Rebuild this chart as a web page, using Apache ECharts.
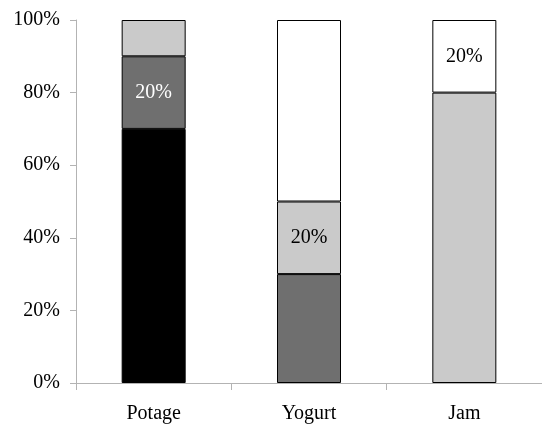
<!DOCTYPE html>
<html><head><meta charset="utf-8">
<script src="https://cdn.jsdelivr.net/npm/echarts@6/dist/echarts.min.js"></script>
<style>html,body{margin:0;padding:0;background:#fff}#c{width:542px;height:427px}</style>
</head><body><div id="c"></div>
<script>
var categories = ['Potage', 'Yogurt', 'Jam'];
var blackValues = [70, 0, 0];
var darkValues = [20, 30, 0];
var lightValues = [10, 20, 80];
var whiteValues = [0, 50, 20];
var yTicks = [0, 20, 40, 60, 80, 100];
// which segments carry a value label
var darkLabeled = [true, false, false];
var lightLabeled = [false, true, false];
var whiteLabeled = [false, false, true];
var blackLabeled = [false, false, false];

var FONT = '"Liberation Serif","DejaVu Serif",serif';

function mk(name, vals, labeled, color, textColor) {
  return {
    name: name, type: 'bar', stack: 'total', barWidth: 64,
    itemStyle: { color: color, borderColor: '#000', borderWidth: 1 },
    data: vals.map(function (v, i) {
      return {
        value: v === 0 ? '-' : v,
        label: { show: labeled[i], position: 'inside', formatter: '{c}%', color: textColor,
                 fontFamily: FONT, fontSize: 20 }
      };
    })
  };
}

var chart = echarts.init(document.getElementById('c'));
chart.setOption({
  animation: false,
  grid: { left: 76, top: 20, right: -6, bottom: 44, containLabel: false },
  xAxis: {
    type: 'category', data: categories,
    axisLine: { lineStyle: { color: '#b3b3b3', width: 1 } },
    axisTick: { show: true, length: 7, lineStyle: { color: '#b3b3b3' } },
    axisLabel: { color: '#000', fontFamily: FONT, fontSize: 20, margin: 21 }
  },
  yAxis: {
    type: 'value', min: yTicks[0], max: yTicks[yTicks.length - 1], interval: 20,
    axisLine: { show: true, lineStyle: { color: '#b3b3b3', width: 1 } },
    axisTick: { show: true, length: 6, lineStyle: { color: '#b3b3b3' } },
    splitLine: { show: false },
    axisLabel: { color: '#000', fontFamily: FONT, fontSize: 20, margin: 16, formatter: '{value}%' }
  },
  series: [
    mk('Black', blackValues, blackLabeled, '#000000', '#000'),
    mk('Dark', darkValues, darkLabeled, '#6f6f6f', '#ffffff'),
    mk('Light', lightValues, lightLabeled, '#cacaca', '#000'),
    mk('White', whiteValues, whiteLabeled, '#ffffff', '#000')
  ]
});
</script></body></html>
